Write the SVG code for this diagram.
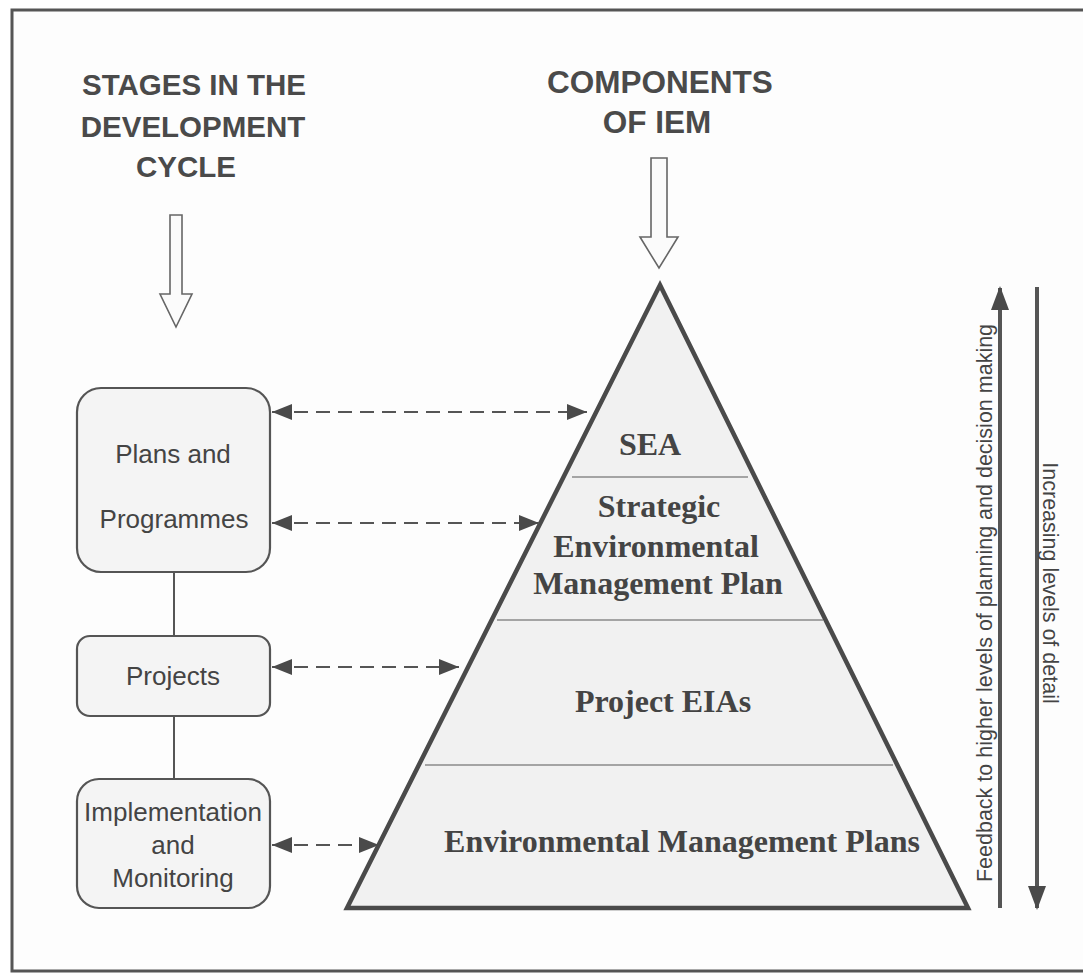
<svg xmlns="http://www.w3.org/2000/svg" width="1083" height="974" viewBox="0 0 1083 974">
  <style>
    .frame { fill: #fdfdfd; stroke: #555; stroke-width: 3; }
    .title { font-family: "Liberation Sans", Arial, sans-serif; font-weight: bold; font-size: 29.5px; fill: #4a4a4a; text-anchor: middle; }
    .title.wide { font-size: 31.5px; }
    .hollow { fill: #fbfbfb; stroke: #666; stroke-width: 1.6; stroke-linejoin: miter; }
    .box { fill: #f4f4f4; stroke: #555; stroke-width: 2.2; }
    .boxtxt { font-family: "Liberation Sans", Arial, sans-serif; font-size: 26px; fill: #444; text-anchor: middle; }
    .tri { fill: #f1f1f1; stroke: #4a4a4a; stroke-width: 4.5; stroke-linejoin: miter; }
    .sep { stroke: #8a8a8a; stroke-width: 1.4; }
    .lvl { font-family: "Liberation Serif", "Times New Roman", serif; font-weight: bold; font-size: 32px; fill: #444; text-anchor: middle; }
    .link { stroke: #555; stroke-width: 2; fill: none; }
    .dash { stroke: #555; stroke-width: 2; stroke-dasharray: 14 8; fill: none; marker-start: url(#head); marker-end: url(#head); }
    .axis { stroke: #555; stroke-width: 4; fill: none; }
    .side { font-family: "Liberation Sans", Arial, sans-serif; font-size: 21.5px; fill: #444; text-anchor: middle; }
  </style>
  <defs>
    <marker id="head" viewBox="0 0 20 16" refX="20" refY="8" markerWidth="20" markerHeight="16" markerUnits="userSpaceOnUse" orient="auto-start-reverse">
      <path d="M0,0 L20,8 L0,16 Z" fill="#4a4a4a"/>
    </marker>
    <marker id="bighead" viewBox="0 0 24 18" refX="22" refY="9" markerWidth="24" markerHeight="18" markerUnits="userSpaceOnUse" orient="auto">
      <path d="M0,0 L24,9 L0,18 Z" fill="#4a4a4a"/>
    </marker>
  </defs>

  <!-- page frame -->
  <rect class="frame" x="12" y="10" width="1080" height="961"/>

  <!-- column headings -->
  <g id="stages-heading">
    <text class="title" x="194" y="95">STAGES IN THE</text>
    <text class="title" x="193" y="137">DEVELOPMENT</text>
    <text class="title" x="186" y="177">CYCLE</text>
    <polygon class="hollow" points="170,215 182,215 182,294 192,294 176,327 160,294 170,294"/>
  </g>
  <g id="components-heading">
    <text class="title wide" x="660" y="93">COMPONENTS</text>
    <text class="title wide" x="657" y="133">OF IEM</text>
    <polygon class="hollow" points="651,158 667,158 667,237 678,237 659,268 640,237 651,237"/>
  </g>

  <!-- development stages -->
  <g id="plans">
    <rect class="box" x="77" y="388" width="193" height="184" rx="24"/>
    <text class="boxtxt" x="173" y="463">Plans and</text>
    <text class="boxtxt" x="174" y="528">Programmes</text>
  </g>
  <g id="projects">
    <rect class="box" x="77" y="636" width="193" height="80" rx="13"/>
    <text class="boxtxt" x="173" y="685">Projects</text>
  </g>
  <g id="implementation">
    <rect class="box" x="77" y="779" width="193" height="129" rx="22"/>
    <text class="boxtxt" x="173" y="821">Implementation</text>
    <text class="boxtxt" x="173" y="854">and</text>
    <text class="boxtxt" x="173" y="887">Monitoring</text>
  </g>

  <!-- IEM pyramid -->
  <g id="pyramid">
    <polygon class="tri" points="660,285 968,908 347,908"/>
    <line class="sep" x1="572" y1="477" x2="748" y2="477"/>
    <line class="sep" x1="497" y1="620" x2="823" y2="620"/>
    <line class="sep" x1="425" y1="765" x2="893" y2="765"/>
  </g>
  <g id="sea">
    <text class="lvl" x="650" y="455">SEA</text>
  </g>
  <g id="semp">
    <text class="lvl" x="659" y="517">Strategic</text>
    <text class="lvl" x="656" y="557">Environmental</text>
    <text class="lvl" x="658" y="594">Management Plan</text>
  </g>
  <g id="eia">
    <text class="lvl" x="663" y="712">Project EIAs</text>
  </g>
  <g id="emp">
    <text class="lvl" x="682" y="852">Environmental Management Plans</text>
  </g>

  <!-- connectors -->
  <g id="connectors">
    <line class="link" x1="174" y1="572" x2="174" y2="636"/>
    <line class="link" x1="174" y1="716" x2="174" y2="779"/>
    <line class="dash" x1="272" y1="412" x2="587" y2="412"/>
    <line class="dash" x1="272" y1="523" x2="539" y2="523"/>
    <line class="dash" x1="272" y1="667" x2="459" y2="667"/>
    <line class="dash" x1="272" y1="845" x2="379" y2="845"/>
  </g>

  <!-- side axes -->
  <g id="feedback">
    <line class="axis" x1="1000" y1="908" x2="1000" y2="288" marker-end="url(#bighead)"/>
    <text class="side" transform="translate(992,603) rotate(-90)">Feedback to higher levels of planning and decision making</text>
  </g>
  <g id="detail">
    <line class="axis" x1="1037" y1="287" x2="1037" y2="908" marker-end="url(#bighead)"/>
    <text class="side" transform="translate(1043,583) rotate(90)">Increasing levels of detail</text>
  </g>
</svg>
